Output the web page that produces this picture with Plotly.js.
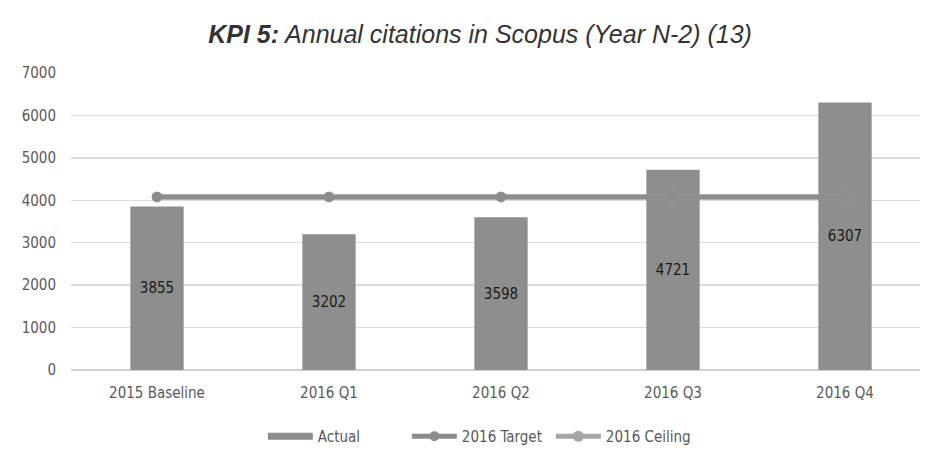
<!DOCTYPE html>
<html>
<head>
<meta charset="utf-8">
<script src="https://cdn.plot.ly/plotly-3.0.1.min.js"></script>
<style>
  html, body { margin: 0; padding: 0; background: #ffffff; }
  #chart { width: 925px; height: 450px; }
</style>
</head>
<body>
<div id="chart"></div>
<script>
// Quarterly Scopus citation counts against the 2016 target and ceiling
const periods = ["2015 Baseline", "2016 Q1", "2016 Q2", "2016 Q3", "2016 Q4"];
const actual = [3855, 3202, 3598, 4721, 6307];
const target2016 = [4080, 4080, 4080, 4080, 4080];
const ceiling2016 = [4080, 4080, 4080, 4080, 4080];
const yTicks = [0, 1000, 2000, 3000, 4000, 5000, 6000, 7000];

const labelFamily = "Liberation Sans Narrow, DejaVu Sans Condensed, Arial Narrow, sans-serif";
const tickFont = { family: labelFamily, size: 15, color: "#595959" };
const barColor = "#8e8e8e";

const traces = [
  {
    type: "bar",
    name: "Actual",
    x: periods,
    y: actual,
    marker: { color: barColor },
    text: actual.map(String),
    textposition: "inside",
    insidetextanchor: "middle",
    textfont: { family: labelFamily, size: 15, color: "#1a1a1a" },
    showlegend: false
  },
  // legend key for the bars: a wide flat swatch
  {
    type: "scatter",
    mode: "lines",
    name: "Actual",
    x: [periods[0]],
    y: [null],
    line: { color: barColor, width: 7 },
    showlegend: true,
    legendrank: 1
  },
  {
    type: "scatter",
    mode: "lines+markers",
    name: "2016 Ceiling",
    x: periods,
    y: ceiling2016,
    line: { color: "#a6a6a6", width: 5 },
    marker: { color: "#a6a6a6", size: 11 },
    legendrank: 3
  },
  {
    type: "scatter",
    mode: "lines+markers",
    name: "2016 Target",
    x: periods,
    y: target2016,
    line: { color: "#8c8c8c", width: 5 },
    marker: { color: "#8c8c8c", size: 10 },
    legendrank: 2
  }
];

const layout = {
  width: 925,
  height: 450,
  paper_bgcolor: "#ffffff",
  plot_bgcolor: "#ffffff",
  margin: { l: 71, r: 5, t: 73, b: 80, autoexpand: false },
  title: {
    text: "<b>KPI 5:</b> Annual citations in Scopus (Year N-2) (13)",
    font: { family: "Liberation Sans, Arial, sans-serif", size: 25, color: "#333333", style: "italic" },
    x: 0.519,
    xanchor: "center",
    y: 0.925,
    yanchor: "middle"
  },
  bargap: 0.69,
  xaxis: {
    type: "category",
    range: [-0.5, 4.436],
    showgrid: false,
    showline: false,
    zeroline: false,
    ticks: "",
    ticklabelstandoff: 12,
    tickfont: tickFont
  },
  yaxis: {
    range: [0, 7000],
    tickvals: yTicks,
    ticktext: yTicks.map(String),
    showgrid: true,
    gridcolor: "#dcdcdc",
    gridwidth: 1.5,
    zeroline: true,
    zerolinecolor: "#d0d0d0",
    zerolinewidth: 1.5,
    showline: false,
    ticks: "",
    ticklabelstandoff: 14,
    tickfont: tickFont
  },
  legend: {
    orientation: "h",
    yref: "container",
    x: 0.226,
    xanchor: "left",
    y: 0.03,
    yanchor: "middle",
    traceorder: "normal",
    font: { family: labelFamily, size: 15, color: "#595959" },
    itemwidth: 45,
    entrywidth: 84,
    entrywidthmode: "pixels"
  },
  showlegend: true
};

Plotly.newPlot("chart", traces, layout, { displayModeBar: false, staticPlot: true });
</script>
</body>
</html>
